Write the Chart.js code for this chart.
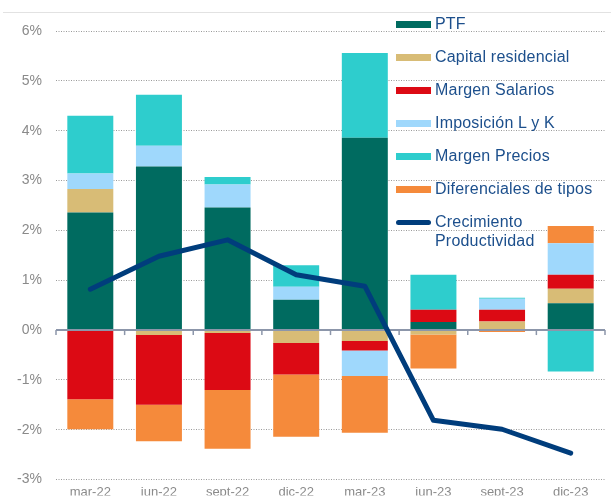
<!DOCTYPE html>
<html>
<head>
<meta charset="utf-8">
<script src="https://cdn.jsdelivr.net/npm/chart.js@4.4.1/dist/chart.umd.min.js"></script>
<style>
    html, body { margin: 0; padding: 0; background: #fff; }
    #wrap { position: relative; width: 611px; height: 502px; }
    #top_rule { position: absolute; left: 3px; right: 0; top: 12px; height: 1px; background: #e2e2e2; }
    #legend { position: absolute; left: 396px; top: 14px; font-family: "Liberation Sans", Arial, sans-serif;
        font-size: 16px; letter-spacing: 0.2px; color: #1c4f8c; line-height: 19px; }
    .item { display: flex; align-items: flex-start; height: 33px; }
    .swatch { width: 35px; height: 7px; margin-top: 7px; margin-right: 4px; flex: none; }
    .swatch.line { height: 5px; margin-top: 8px; border-radius: 3px; }
</style>
</head>
<body>
<div id="wrap">
    <div id="top_rule"></div>
    <canvas id="chart" width="611" height="502"></canvas>
    <div id="legend"></div>
</div>
<script>
const categories = ["mar-22", "jun-22", "sept-22", "dic-22", "mar-23", "jun-23", "sept-23", "dic-23"];

const ptf = [2.36, 3.28, 2.46, 0.61, 3.86, 0.16, 0, 0.54];
const capital_residencial = [0.47, -0.10, -0.06, -0.26, -0.22, -0.09, 0.17, 0.29];
const margen_salarios = [-1.39, -1.40, -1.14, -0.63, -0.19, 0.25, 0.24, 0.28];
const imposicion = [0.31, 0.42, 0.46, 0.26, -0.51, 0, 0.22, 0.63];
const margen_precios = [1.16, 1.02, 0.15, 0.43, 1.70, 0.70, 0.02, -0.83];
const diferenciales = [-0.60, -0.73, -1.18, -1.25, -1.14, -0.68, -0.04, 0.35];
const crecimiento = [0.82, 1.48, 1.81, 1.11, 0.88, -1.81, -1.99, -2.47];

const y_ticks = [-3, -2, -1, 0, 1, 2, 3, 4, 5, 6];

const bar_series = [
    { label: "PTF", data: ptf, color: "#006b60" },
    { label: "Capital residencial", data: capital_residencial, color: "#d8bc76" },
    { label: "Margen Salarios", data: margen_salarios, color: "#dc0a14" },
    { label: "Imposición L y K", data: imposicion, color: "#9fd8fc" },
    { label: "Margen Precios", data: margen_precios, color: "#2ecdcd" },
    { label: "Diferenciales de tipos", data: diferenciales, color: "#f58a3b" },
];
const line_series = { label: "Crecimiento\nProductividad", data: crecimiento, color: "#003d7c" };

let datasets = bar_series.map((s) => ({
    type: "bar",
    label: s.label,
    data: s.data,
    backgroundColor: s.color,
    stack: "s",
    order: 1,
    categoryPercentage: 1.0,
    barPercentage: 0.67,
}));
datasets.push({
    type: "line",
    label: line_series.label,
    data: line_series.data,
    borderColor: line_series.color,
    borderWidth: 5,
    borderCapStyle: "round",
    borderJoinStyle: "round",
    pointRadius: 0,
    tension: 0,
    order: 0,
});

// zero line + small ticks, drawn over the bars but under the line
const zeroLine = {
    id: "zeroLine",
    beforeDatasetDraw(chart, args) {
        if (args.meta.type !== "line") return;
        let ctx = chart.ctx;
        let y0 = chart.scales.y.getPixelForValue(0);
        let area = chart.chartArea;
        ctx.save();
        ctx.strokeStyle = "#8c96aa";
        ctx.lineWidth = 2;
        ctx.beginPath();
        ctx.moveTo(area.left, y0);
        ctx.lineTo(area.right, y0);
        ctx.stroke();
        ctx.lineWidth = 1.5;
        let step = (area.right - area.left) / categories.length;
        for (let i = 0; i <= categories.length; i++) {
            let px = area.left + step * i;
            ctx.beginPath();
            ctx.moveTo(px, y0);
            ctx.lineTo(px, y0 + 5);
            ctx.stroke();
        }
        ctx.restore();
    }
};

new Chart(document.getElementById("chart"), {
    data: { labels: categories, datasets: datasets },
    options: {
        responsive: false,
        animation: false,
        layout: { padding: { top: 31, right: 6, left: 0, bottom: 0 } },
        plugins: { legend: { display: false }, tooltip: { enabled: false } },
        scales: {
            x: {
                stacked: true,
                grid: { display: false, drawTicks: false },
                border: { display: false },
                ticks: { color: "#8a8a8a", font: { family: "Liberation Sans", size: 13 }, padding: 5, maxRotation: 0 },
                afterFit(scale) { scale.height = 16; },
            },
            y: {
                stacked: true,
                min: -3,
                max: 6,
                afterBuildTicks(scale) { scale.ticks = y_ticks.map((v) => ({ value: v })); },
                grid: { color: "#9a9a9a", lineWidth: 1, drawTicks: false },
                border: { display: false, dash: [1, 1.5] },
                ticks: {
                    color: "#8a8a8a",
                    font: { family: "Liberation Sans", size: 14 },
                    padding: 14,
                    callback: (v) => v + "%",
                },
                afterFit(scale) { scale.width = 56; },
            },
        },
    },
    plugins: [zeroLine],
});

// legend
let legend = document.getElementById("legend");
bar_series.forEach((s) => {
    let item = document.createElement("div");
    item.className = "item";
    item.innerHTML = `<span class="swatch" style="background:${s.color}"></span><span>${s.label}</span>`;
    legend.appendChild(item);
});
let item = document.createElement("div");
item.className = "item";
item.innerHTML = `<span class="swatch line" style="background:${line_series.color}"></span><span>${line_series.label.replace("\n", "<br>")}</span>`;
legend.appendChild(item);
</script>
</body>
</html>
